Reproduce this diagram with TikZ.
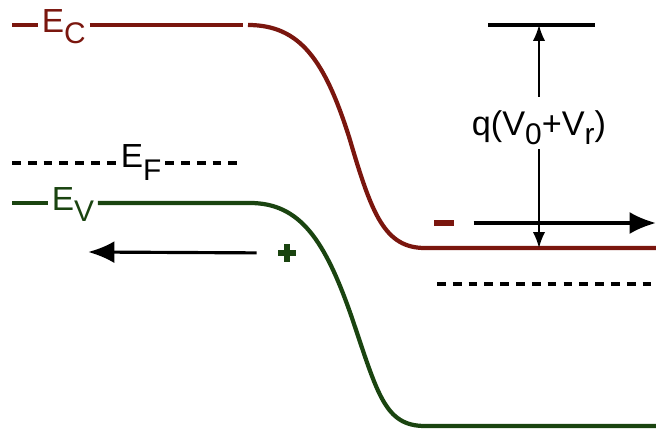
\documentclass[tikz,border=0pt]{standalone}
\usepackage{fontspec}
\setmainfont{Liberation Sans}
\usetikzlibrary{arrows.meta}
\usetikzlibrary{positioning}
\definecolor{condred}{RGB}{122,22,14}
\definecolor{valgreen}{RGB}{26,68,16}
\newcommand{\lowsub}[2][-6pt]{\raisebox{#1}{\fontsize{17}{17}\selectfont #2}}

\begin{document}
\begin{tikzpicture}[x=0.02cm,y=-0.02cm,
  band/.style={line width=2.4pt},
  fermi/.style={line width=1.8pt, dash pattern=on 5pt off 4pt},
  lbl/.style={font=\fontsize{19}{21}\selectfont, inner sep=2pt},
  dimline/.style={line width=1.1pt, -{Latex[length=9pt,width=7pt]}},
  drift/.style={line width=1.8pt, -{Latex[length=15pt,width=12.5pt]}},
  plusmark/.style={minimum size=0.36cm, inner sep=0pt,
    path picture={\draw[valgreen, line width=3.6pt]
      (path picture bounding box.north) -- (path picture bounding box.south)
      (path picture bounding box.west) -- (path picture bounding box.east);}}]
  \useasboundingbox (0,0) rectangle (656,429);
  % Conduction band edge
  \coordinate (ecL) at (12,25);
  \coordinate (ecR) at (656,248);
  \node[lbl, condred, anchor=base west] (ec) at (38,33) {E\lowsub{C}};
  \draw[band, condred] (ecL) -- (ecL -| ec.west);
  \draw[band, condred] (ecL -| ec.east) -- (243,25);
  \draw[band, condred] (248,25) .. controls (300,25) and (325,60) .. (350,140)
    .. controls (372,215) and (385,248) .. (425,248) -- (ecR);
  % Fermi level
  \coordinate (efL) at (12,163);
  \node[lbl, anchor=base west] (ef) at (117,168) {E\lowsub[-7pt]{F}};
  \draw[fermi] (efL) -- (efL -| ef.west);
  \draw[fermi] (efL -| ef.east) -- (238,163);
  \coordinate (efA) at (437,284);
  \coordinate (efB) at (656,284);
  \draw[fermi] (efA) -- (efB);
  % Valence band edge
  \coordinate (evL) at (12,203);
  \node[lbl, valgreen, anchor=base west] (ev) at (48,211) {E\lowsub{V}};
  \draw[band, valgreen] (evL) -- (evL -| ev.west);
  \draw[band, valgreen] (evL -| ev.east) -- (250,203)
    .. controls (300,203) and (325,240) .. (352,318)
    .. controls (378,395) and (385,426) .. (425,426) -- (656,426);
  % Barrier height
  \coordinate (topL) at (488,25);
  \coordinate (topR) at (595,25);
  \draw[line width=1.8pt] (topL) -- (topR);
  \node[font=\fontsize{19.5}{21}\selectfont, inner sep=1pt] (qlab) at (539,128)
    {q(V\lowsub[-5pt]{0}+V\lowsub[-5pt]{r})};
  \draw[dimline, shorten <=7pt] (qlab.north) -- (qlab |- topL);
  \draw[dimline, shorten <=1pt] (qlab.south) -- (qlab |- ecR);
  % Carriers
  \node[fill=condred, minimum width=0.4cm, minimum height=0.13cm, inner sep=0pt] (elec) at (444,223) {};
  \coordinate (eOut) at (656,223);
  \draw[drift, shorten <=11pt] (elec.east) -- (eOut);
  \node[plusmark] (hole) at (287,253) {};
  \coordinate (hOut) at (88,252);
  \draw[drift, shorten <=12pt] (hole.west) -- (hOut);
\end{tikzpicture}
\end{document}
